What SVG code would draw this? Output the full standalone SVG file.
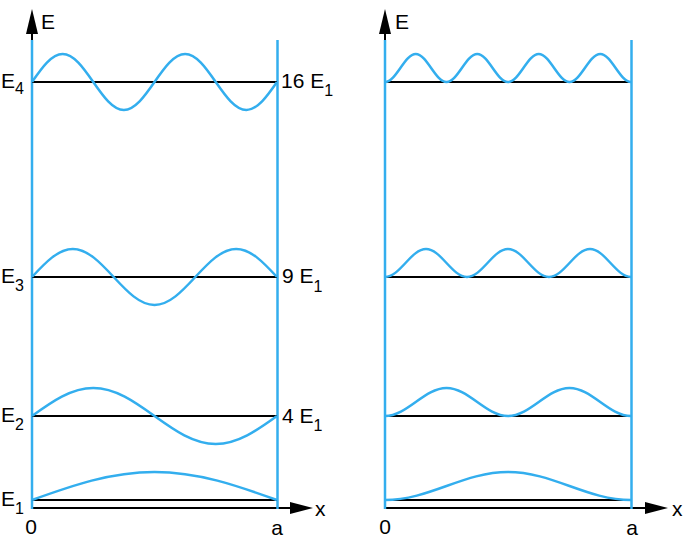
<svg xmlns="http://www.w3.org/2000/svg" width="685" height="540" viewBox="0 0 685 540">
<defs>
<style>
.wall{stroke:#33aeee;stroke-width:2.5;fill:none}
.wave{stroke:#33aeee;stroke-width:2.5;fill:none}
.lvl{stroke:#000;stroke-width:2;fill:none}
.ax{stroke:#000;stroke-width:2;fill:none}
.ah{fill:#000}
text{font-family:"Liberation Sans",Arial,sans-serif;font-size:21px;fill:#000}
.sub{font-size:16px}
</style>
</defs>
<rect width="685" height="540" fill="#fff"/>
<g id="connectors">
<line class="ax" x1="32" y1="30" x2="32" y2="41"/>
<polygon class="ah" points="32,9 26,34 38,34"/>
<line class="ax" x1="32" y1="508" x2="292" y2="508"/>
<polygon class="ah" points="313,508 290,502 290,514"/>
<line class="ax" x1="385" y1="30" x2="385" y2="41"/>
<polygon class="ah" points="385,9 379,34 391,34"/>
<line class="ax" x1="385" y1="508" x2="647" y2="508"/>
<polygon class="ah" points="668,508 645,502 645,514"/>
</g>
<g id="left-panel">
<line class="wall" x1="32" y1="40" x2="32" y2="509"/>
<line class="wall" x1="277.5" y1="40" x2="277.5" y2="509"/>
<g id="left-levels">
<line class="lvl" x1="32" y1="82" x2="277" y2="82"/>
<line class="lvl" x1="32" y1="277" x2="277" y2="277"/>
<line class="lvl" x1="32" y1="416" x2="277" y2="416"/>
<line class="lvl" x1="32" y1="500" x2="277" y2="500"/>
</g>
<g id="left-waves">
<path class="wave" d="M32,500 C71.9,485.67 110.29,472 154.5,472 C198.71,472 237.09,485.67 277,500"/>
<path class="wave" d="M32,416 C51.95,401.67 71.14,388 93.25,388 C115.35,388 134.54,401.67 154.5,416 C174.45,430.33 193.64,444 215.75,444 C237.85,444 257.04,430.33 277,416"/>
<path class="wave" d="M32,277 C45.3,262.67 58.1,249 72.83,249 C87.57,249 100.36,262.67 113.67,277 C126.97,291.33 139.77,305 154.5,305 C169.24,305 182.03,291.33 195.33,277 C208.63,262.67 221.43,249 236.17,249 C250.91,249 263.7,262.67 277,277"/>
<path class="wave" d="M32,82 C41.98,67.67 51.57,54 62.63,54 C73.68,54 83.28,67.67 93.25,82 C103.23,96.33 112.82,110 123.88,110 C134.93,110 144.53,96.33 154.5,82 C164.48,67.67 174.07,54 185.13,54 C196.18,54 205.78,67.67 215.75,82 C225.730,96.33 235.32,110 246.38,110 C257.43,110 267.03,96.33 277,82"/>
</g>
</g>
<g id="right-panel">
<line class="wall" x1="385" y1="40" x2="385" y2="509"/>
<line class="wall" x1="631.5" y1="40" x2="631.5" y2="509"/>
<g id="right-levels">
<line class="lvl" x1="385" y1="82" x2="631" y2="82"/>
<line class="lvl" x1="385" y1="277" x2="631" y2="277"/>
<line class="lvl" x1="385" y1="416" x2="631" y2="416"/>
<line class="lvl" x1="385" y1="500" x2="631" y2="500"/>
</g>
<g id="right-waves">
<path class="wave" d="M385,500 C429.7,500 463.3,472 508,472 S586.3,500 631,500"/>
<path class="wave" d="M385,416 C407.35,416 424.15,388 446.5,388 S485.65,416 508,416 S547.15,388 569.5,388 S608.65,416 631,416"/>
<path class="wave" d="M385,277 C399.9,277 411.1,249 426,249 S452.1,277 467,277 S493.1,249 508,249 S534.1,277 549,277 S575.1,249 590,249 S616.1,277 631,277"/>
<path class="wave" d="M385,82 C396.18,82 404.58,54 415.75,54 S435.33,82 446.5,82 S466.08,54 477.25,54 S496.83,82 508,82 S527.58,54 538.75,54 S558.33,82 569.5,82 S589.08,54 600.25,54 S619.83,82 631,82"/>
</g>
</g>
<g id="labels">
<text x="41" y="29">E</text>
<text x="395" y="29">E</text>
<text x="1" y="88">E<tspan class="sub" dy="6">4</tspan></text>
<text x="1" y="283">E<tspan class="sub" dy="8">3</tspan></text>
<text x="1" y="422">E<tspan class="sub" dy="8">2</tspan></text>
<text x="1" y="506">E<tspan class="sub" dy="8">1</tspan></text>
<text x="281" y="88">16 E<tspan class="sub" dy="8">1</tspan></text>
<text x="282" y="283">9 E<tspan class="sub" dy="9">1</tspan></text>
<text x="282" y="423">4 E<tspan class="sub" dy="8">1</tspan></text>
<text x="31" y="534" text-anchor="middle">0</text>
<text x="277" y="535" text-anchor="middle">a</text>
<text x="385" y="534" text-anchor="middle">0</text>
<text x="632" y="535" text-anchor="middle">a</text>
<text x="315" y="516">x</text>
<text x="672" y="516">x</text>
</g>
</svg>
